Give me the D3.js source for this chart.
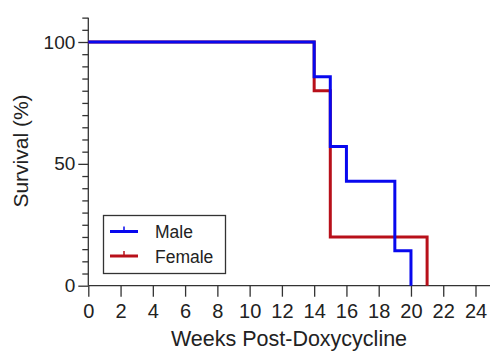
<!DOCTYPE html>
<html>
<head>
<meta charset="utf-8">
<script src="https://cdn.jsdelivr.net/npm/d3@7"></script>
<style>
  body { margin: 0; background: #fff; }
  text { font-family: "Liberation Sans", Arial, sans-serif; fill: #222; }
</style>
</head>
<body>
<div id="chart"></div>
<script>
// survival data
var maleWeeks = [0, 14, 15, 16, 19, 20];
var maleSurvival = [100, 85.7, 57.1, 42.9, 14.3, 0];
var femaleWeeks = [0, 14, 15, 21];
var femaleSurvival = [100, 80, 20, 0];
var xTicks = [0, 2, 4, 6, 8, 10, 12, 14, 16, 18, 20, 22, 24];
var yTicks = [0, 50, 100];
var legendNames = ["Male", "Female"];

var width = 490, height = 351;

var svg = d3.select("#chart")
            .append("svg")
            .attr("width", width)
            .attr("height", height);

var xScale = d3.scaleLinear().domain([0, 24]).range([88.3, 475.5]),
    yScale = d3.scaleLinear().domain([0, 100]).range([285.7, 42]);

// x axis
var xAxis = svg.append("g")
   .attr("transform", "translate(0," + yScale(0) + ")")
   .call(d3.axisBottom(xScale).tickValues(xTicks).tickSize(11).tickPadding(7).tickSizeOuter(0));
xAxis.select(".domain").attr("d", "M" + xScale(0) + ",0H" + width);

// y axis, minor ticks every 5 up to 110
var yAxis = svg.append("g")
   .attr("transform", "translate(" + xScale(0) + ",0)")
   .call(d3.axisLeft(yScale).tickValues(d3.range(0, 111, 5)).tickSizeOuter(0)
     .tickFormat(function(d) { return yTicks.indexOf(d) >= 0 ? d : ""; }));
yAxis.select(".domain").attr("d", "M0," + yScale(0) + "V" + yScale(110));
yAxis.selectAll(".tick line").attr("x2", function(d) { return yTicks.indexOf(d) >= 0 ? -10 : -6; });
yAxis.selectAll(".tick text").attr("x", -13);

svg.selectAll(".domain, .tick line").attr("stroke", "#333").attr("stroke-width", 1.3);
yAxis.selectAll(".tick text").style("font-size", "19px").attr("fill", "#222");
xAxis.selectAll(".tick text").style("font-size", "20px").attr("fill", "#222");

// axis titles
svg.append("text")
   .attr("x", 289)
   .attr("y", 346)
   .attr("text-anchor", "middle")
   .style("font-size", "21.5px")
   .text("Weeks Post-Doxycycline");

svg.append("text")
   .attr("transform", "translate(28,151) rotate(-90)")
   .attr("text-anchor", "middle")
   .style("font-size", "21px")
   .text("Survival (%)");

// survival curves
var line = d3.line()
   .x(function(d) { return xScale(d[0]); })
   .y(function(d) { return yScale(d[1]); })
   .curve(d3.curveStepAfter);

var female = d3.zip(femaleWeeks, femaleSurvival),
    male = d3.zip(maleWeeks, maleSurvival);
var colors = ["#0808ee", "#b8101a"];

svg.append("path").datum(female)
   .attr("d", line).attr("fill", "none")
   .attr("stroke", colors[1]).attr("stroke-width", 3);
svg.append("path").datum(male)
   .attr("d", line).attr("fill", "none")
   .attr("stroke", colors[0]).attr("stroke-width", 3);

// legend
var legend = svg.append("g");
legend.append("rect")
   .attr("x", 103.5).attr("y", 215.5)
   .attr("width", 122).attr("height", 58)
   .attr("fill", "#fff").attr("stroke", "#333").attr("stroke-width", 1.3);

legendNames.forEach(function(name, i) {
  var y = 231.5 + i * 24.5;
  legend.append("line")
     .attr("x1", 110).attr("x2", 138).attr("y1", y).attr("y2", y)
     .attr("stroke", colors[i]).attr("stroke-width", 3);
  legend.append("line")
     .attr("x1", 124).attr("x2", 124).attr("y1", y).attr("y2", y - 5)
     .attr("stroke", colors[i]).attr("stroke-width", 1.5);
  legend.append("text")
     .attr("x", 155).attr("y", y + 6.5)
     .style("font-size", "17.5px")
     .text(name);
});
</script>
</body>
</html>
